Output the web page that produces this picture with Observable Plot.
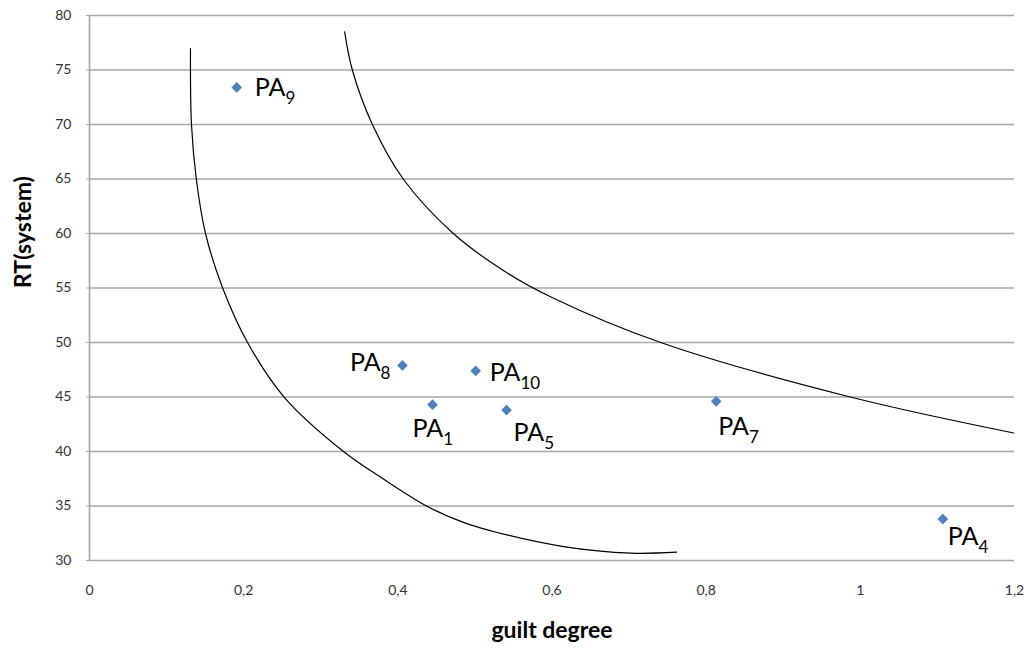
<!DOCTYPE html>
<html>
<head>
<meta charset="utf-8">
<script src="https://cdn.jsdelivr.net/npm/d3@7"></script>
<script src="https://cdn.jsdelivr.net/npm/@observablehq/plot@0.6"></script>
<style>
  html, body { margin: 0; padding: 0; background: #fff; }
  svg { display: block; font-family: Lato, "Open Sans", sans-serif; }
</style>
</head>
<body>
<div id="chart"></div>
<script>
// ---- data ----
const subs  = ["9", "8", "10", "1", "5", "7", "4"];
const guilt = [0.191, 0.406, 0.501, 0.445, 0.541, 0.813, 1.107];
const rt    = [73.4, 47.9, 47.4, 44.3, 43.8, 44.6, 33.8];

// hand-drawn curve 1 (inner)
const curve1X = [0.131, 0.1323, 0.1388, 0.1505, 0.1725, 0.205, 0.253, 0.3295, 0.3775, 0.4385, 0.485, 0.529, 0.615, 0.702, 0.7615];
const curve1Y = [76.97, 70, 64.86, 60, 55.05, 50, 44.95, 40, 37.65, 34.95, 33.5, 32.57, 31.28, 30.67, 30.76];
// hand-drawn curve 2 (outer)
const curve2X = [0.331, 0.341, 0.367, 0.407, 0.472, 0.537, 0.598, 0.741, 0.987, 1.199];
const curve2Y = [78.5, 75, 70, 65, 60, 56.6, 54.2, 50, 45, 41.7];

const xTicks = [0, 0.2, 0.4, 0.6, 0.8, 1, 1.2];
const yTicks = [30, 35, 40, 45, 50, 55, 60, 65, 70, 75, 80];

// ---- layout (label placement relative to each point, in px) ----
const labelPlacement = [
  {anchor: "start", dx: 18,  dy: 1},
  {anchor: "end",   dx: -12, dy: -2},
  {anchor: "start", dx: 14,  dy: 2},
  {anchor: "start", dx: -20, dy: 24},
  {anchor: "start", dx: 7,   dy: 23},
  {anchor: "start", dx: 2,   dy: 26},
  {anchor: "start", dx: 5,   dy: 18}
];

const points = subs.map((s, i) => ({sub: s, x: guilt[i], y: rt[i]}));
const c1 = curve1X.map((x, i) => ({x, y: curve1Y[i]}));
const c2 = curve2X.map((x, i) => ({x, y: curve2Y[i]}));

const labelMarks = points.map((p, i) => Plot.text([p], {
  x: "x", y: "y", text: d => "PA" + d.sub,
  textAnchor: labelPlacement[i].anchor,
  dx: labelPlacement[i].dx, dy: labelPlacement[i].dy,
  fontSize: 25, fill: "#000"
}));

const chart = Plot.plot({
  width: 1031,
  height: 653,
  marginLeft: 89,
  marginRight: 17,
  marginTop: 15,
  marginBottom: 93,
  style: {fontFamily: "Lato, 'Open Sans', sans-serif", background: "#fff"},
  x: {domain: [0, 1.2]},
  y: {domain: [30, 80]},
  marks: [
    Plot.gridY(yTicks, {stroke: "#a6a6a6", strokeOpacity: 1, strokeWidth: 1.6}),
    Plot.ruleX([0], {stroke: "#a6a6a6", strokeWidth: 1.6}),
    Plot.axisY(yTicks, {tickSize: 3, stroke: "#a6a6a6", tickPadding: 15, fontSize: 14, fill: "#333", label: null}),
    Plot.axisX(xTicks, {tickSize: 0, tickPadding: 25, fontSize: 14, fill: "#333", label: null,
      tickFormat: d => String(d).replace(".", ",")}),
    Plot.text(["guilt degree"], {frameAnchor: "bottom", dy: 77, fontSize: 23, fontWeight: "bold", fill: "#000"}),
    Plot.text(["RT(system)"], {frameAnchor: "left", dx: -66, rotate: -90, fontSize: 23, fontWeight: "bold", fill: "#000"}),
    Plot.line(c1, {x: "x", y: "y", curve: "catmull-rom", stroke: "#000", strokeWidth: 1.2}),
    Plot.line(c2, {x: "x", y: "y", curve: "catmull-rom", stroke: "#000", strokeWidth: 1.2}),
    Plot.dot(points, {x: "x", y: "y", symbol: "diamond2", r: 4.8, fill: "#4f81bd", stroke: "none"}),
    ...labelMarks
  ]
});
document.getElementById("chart").append(chart);

// turn the trailing number of each label into a subscript
chart.querySelectorAll("text").forEach(t => {
  const m = /^PA(\d+)$/.exec(t.textContent);
  if (!m) return;
  t.textContent = "PA";
  const ts = document.createElementNS("http://www.w3.org/2000/svg", "tspan");
  ts.setAttribute("dy", "8");
  ts.setAttribute("font-size", "17");
  ts.textContent = m[1];
  t.appendChild(ts);
});
</script>
</body>
</html>
